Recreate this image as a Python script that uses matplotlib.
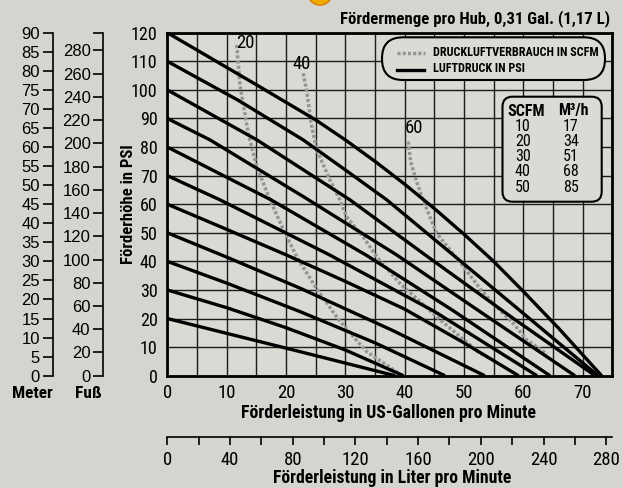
import os
import matplotlib
matplotlib.use('Agg')
import matplotlib.pyplot as plt
from matplotlib import font_manager
from matplotlib.font_manager import FontProperties
from matplotlib.patches import FancyBboxPatch, Circle
from matplotlib.lines import Line2D
from matplotlib.transforms import IdentityTransform

# Air pressure curves (PSI), flow in US gal/min vs. head in PSI
flow_20 = [0, 22.4, 38.4]
head_20 = [20, 8.4, 0]
flow_30 = [0, 10, 20, 30, 39.8]
head_30 = [30, 23.8, 16.8, 9.0, 0]
flow_40 = [0, 10, 22.4, 35, 46.8]
head_40 = [40, 32.4, 22.4, 11.5, 0]
flow_50 = [0, 10, 22.4, 38, 53.5]
head_50 = [50, 41.5, 30.6, 15.8, 0]
flow_60 = [0, 10, 20, 30, 40, 50, 59.2]
head_60 = [60, 51.2, 42.3, 33, 23.3, 11.5, 0]
flow_70 = [0, 8.9, 27.4, 45, 62.3]
head_70 = [70, 61.5, 42.2, 22.5, 0]
flow_80 = [0, 17.5, 33.5, 48, 64.5]
head_80 = [80, 61.5, 42.2, 23, 0]
flow_90 = [0, 7.2, 23.2, 38.7, 53, 68.7]
head_90 = [90, 82.5, 62.3, 42.2, 22, 0]
flow_100 = [0, 15.1, 30.8, 43.5, 58, 72.1]
head_100 = [100, 82.5, 61.5, 42.2, 20.5, 0]
flow_110 = [0, 12, 22.9, 30, 37, 48.2, 60, 72.6]
head_110 = [110, 96.3, 82.5, 72, 61.5, 42.2, 21.8, 0]
flow_120 = [0, 15, 25, 30, 35, 40, 45, 50, 55, 60, 66, 73.2]
head_120 = [120, 101.8, 89.5, 82.5, 75, 67, 58.5, 49.5, 40, 29.5, 16.5, 0]

# Air consumption curves (SCFM)
scfm_labels = ['20', '40', '60']
flow_scfm20 = [11.7, 12.25, 13.7, 15.1, 17.3, 19.6, 21.8, 25.2, 29.1, 33.6, 39.6]
head_scfm20 = [115.7, 101.6, 84.2, 73.1, 61.5, 51, 41.6, 30.3, 19, 8.4, 0]
flow_scfm40 = [22.9, 23.5, 24.3, 25.2, 27.4, 29.1, 30.2, 33.0, 35.3, 39.2, 45.4, 52.7, 54.0]
head_scfm40 = [105.8, 99.4, 87.7, 79, 68.5, 61.5, 55.6, 48.6, 41.6, 32.3, 20.6, 7.8, 6.5]
flow_scfm60 = [40.6, 41.0, 42.0, 43.1, 45.4, 49.9, 52.7, 54.9, 58.3, 60.6, 64.0]
head_scfm60 = [81.9, 75, 68, 61.5, 49.8, 38.2, 30.5, 25.3, 18.3, 12.5, 7.5]
label_pos_x = [13.1, 22.7, 41.6]
label_pos_y = [116.5, 109.2, 86.6]

# SCFM -> m3/h table
table_scfm = [10, 20, 30, 40, 50]
table_m3h = [17, 34, 51, 68, 85]

# Axis ticks
gpm_ticks = list(range(0, 71, 10))
psi_ticks = list(range(0, 121, 10))
liter_ticks = list(range(0, 281, 40))
meter_ticks = list(range(0, 91, 5))
feet_ticks = list(range(0, 281, 20))

plt.rcParams['font.family'] = ['Liberation Sans', 'DejaVu Sans']

# Look for a condensed face (the original uses Arial Narrow)
files = {os.path.basename(f.fname): f.fname for f in font_manager.fontManager.ttflist}
narrow_reg = narrow_bold = None
for r, b in [('LiberationSansNarrow-Regular.ttf', 'LiberationSansNarrow-Bold.ttf'),
             ('RobotoCondensed-Regular.ttf', 'RobotoCondensed-Bold.ttf'),
             ('OpenSans_Condensed-Regular.ttf', 'OpenSans_Condensed-Bold.ttf'),
             ('OpenSansCondensed-Regular.ttf', 'OpenSansCondensed-Bold.ttf')]:
    if r in files and b in files:
        narrow_reg, narrow_bold = files[r], files[b]
        break


def nfont(size, bold=False):
    if narrow_reg:
        return FontProperties(fname=narrow_bold if bold else narrow_reg, size=size)
    return FontProperties(family=['Liberation Sans', 'DejaVu Sans'],
                          weight='bold' if bold else 'normal', size=size * 0.84)


W, H = 623, 488
bg = '#d6d4cf'


def box(x0, y0, x1, y1):
    # pixel box (top-left origin) -> figure fraction rect
    return [x0 / W, 1 - y1 / H, (x1 - x0) / W, (y1 - y0) / H]


def ftext(xp, yp, s, size, bold=False, ha='center', **kw):
    return fig.text(xp / W, 1 - yp / H, s, fontproperties=nfont(size, bold),
                    ha=ha, va='center', **kw)


fig = plt.figure(figsize=(W / 100, H / 100), dpi=100)
fig.patch.set_facecolor(bg)

# orange icon peeking in at the top
fig.add_artist(Circle((320, H + 7), 12, transform=IdentityTransform(),
                      facecolor='#f2aa00', edgecolor='#d98200', lw=1.2))

# Main chart
ax = fig.add_axes(box(167.3, 32.7, 612.3, 375.7))
ax.set_facecolor('#dbd9d4')
ax.set_xlim(0, 75)
ax.set_ylim(0, 120)
ax.set_xticks(gpm_ticks)
ax.set_xticks(range(5, 76, 10), minor=True)
ax.set_yticks(psi_ticks)
ax.tick_params(which='both', length=0)
ax.tick_params(axis='y', pad=7)
ax.tick_params(axis='x', pad=6)
for lbl in ax.get_xticklabels():
    lbl.set_fontproperties(nfont(13.5))
for lbl in ax.get_yticklabels():
    lbl.set_fontproperties(nfont(13))
ax.grid(True, which='both', color='#1c1c1c', linewidth=1.0)
ax.set_axisbelow(True)
for s in ax.spines.values():
    s.set_linewidth(2.0)
    s.set_zorder(6)

ax.set_ylabel('Förderhöhe in PSI', fontproperties=nfont(12, True), va='center')
ax.yaxis.set_label_coords(-0.088, 0.5)
ax.set_xlabel('Förderleistung in US-Gallonen pro Minute', fontproperties=nfont(12.8, True),
              va='center')
ax.xaxis.set_label_coords(0.497, -0.11)

pressure_flows = [flow_20, flow_30, flow_40, flow_50, flow_60, flow_70,
                  flow_80, flow_90, flow_100, flow_110, flow_120]
pressure_heads = [head_20, head_30, head_40, head_50, head_60, head_70,
                  head_80, head_90, head_100, head_110, head_120]
for fx, hy in zip(pressure_flows, pressure_heads):
    ax.plot(fx, hy, color='black', linewidth=2.4, solid_capstyle='butt',
            solid_joinstyle='round', zorder=4)

scfm_flows = [flow_scfm20, flow_scfm40, flow_scfm60]
scfm_heads = [head_scfm20, head_scfm40, head_scfm60]
for fx, hy in zip(scfm_flows, scfm_heads):
    ax.plot(fx, hy, color='#959595', linewidth=2.5, linestyle=(0, (0.9, 0.6)),
            dash_capstyle='butt', zorder=3)
for lab, lx, ly in zip(scfm_labels, label_pos_x, label_pos_y):
    ax.text(lx, ly, lab, fontproperties=nfont(13.5), ha='center', va='center', zorder=5)

# Legend pill
fig.add_artist(FancyBboxPatch((382, H - 80), 223, 42.7,
                              boxstyle='round,pad=0,rounding_size=21',
                              transform=IdentityTransform(), facecolor='#dcdad5',
                              edgecolor='black', lw=1.5, zorder=10))
fig.add_artist(Line2D([397 / W, 425 / W], [1 - 53.3 / H] * 2, color='#959595', lw=2.5,
                      linestyle=(0, (0.9, 0.6)), dash_capstyle='butt', zorder=11))
fig.add_artist(Line2D([397 / W, 423.5 / W], [1 - 70 / H] * 2, color='black', lw=2.4,
                      zorder=11))
ftext(433, 52, 'DRUCKLUFTVERBRAUCH IN SCFM', 8.7, True, ha='left', zorder=11)
ftext(433, 68, 'LUFTDRUCK IN PSI', 8.7, True, ha='left', zorder=11)

# SCFM table box
fig.add_artist(FancyBboxPatch((502.5, H - 201.7), 99.2, 105,
                              boxstyle='round,pad=0,rounding_size=10',
                              transform=IdentityTransform(), facecolor='#dcdad5',
                              edgecolor='black', lw=1.5, zorder=10))
ftext(526.3, 111, 'SCFM', 11.5, True, zorder=11)
ftext(573.7, 111, 'M³/h', 11.5, True, zorder=11)
for i, (s, m) in enumerate(zip(table_scfm, table_m3h)):
    yy = 126.7 + i * 15.1
    ftext(522.7, yy, str(s), 11.5, zorder=11)
    ftext(571, yy, str(m), 11.5, zorder=11)

# Title
ftext(610, 19, 'Fördermenge pro Hub, 0,31 Gal. (1,17 L)', 12.1, True, ha='right')

# Liter scale
axl = fig.add_axes([167.3 / W, 1 - 436.7 / H, 445 / W, 0.001])
axl.set_facecolor('none')
axl.set_xlim(0, 75 * 3.785)
axl.set_ylim(0, 1)
for side in ['top', 'left', 'right']:
    axl.spines[side].set_visible(False)
axl.spines['bottom'].set_linewidth(1.2)
axl.set_yticks([])
axl.set_xticks(liter_ticks)
axl.set_xticks(range(20, 281, 40), minor=True)
axl.tick_params(which='both', direction='out', length=6, width=1.2, pad=4)
for lbl in axl.get_xticklabels():
    lbl.set_fontproperties(nfont(13.5))
ftext(392.5, 478, 'Förderleistung in Liter pro Minute', 12.7, True)

# Meter and Fuss scales
for xpix, top, ticks, name, xname in [(52.5, 90, meter_ticks, 'Meter', 32),
                                      (103, 90 * 3.2808, feet_ticks, 'Fuß', 88)]:
    a = fig.add_axes([xpix / W, 1 - 375.7 / H, 0.001, (375.7 - 32.7) / H])
    a.set_facecolor('none')
    a.set_ylim(0, top)
    a.set_xticks([])
    for side in ['top', 'bottom', 'right']:
        a.spines[side].set_visible(False)
    a.spines['left'].set_linewidth(1.2)
    a.set_yticks(ticks)
    if ticks[-1] < top:
        a.set_yticks([top], minor=True)
    a.tick_params(which='both', direction='out', length=7, width=1.2,
                  labelsize=12, pad=2)
    ftext(xname, 394, name, 12.5, True)

fig.savefig('out.png', dpi=100, facecolor=fig.get_facecolor())
